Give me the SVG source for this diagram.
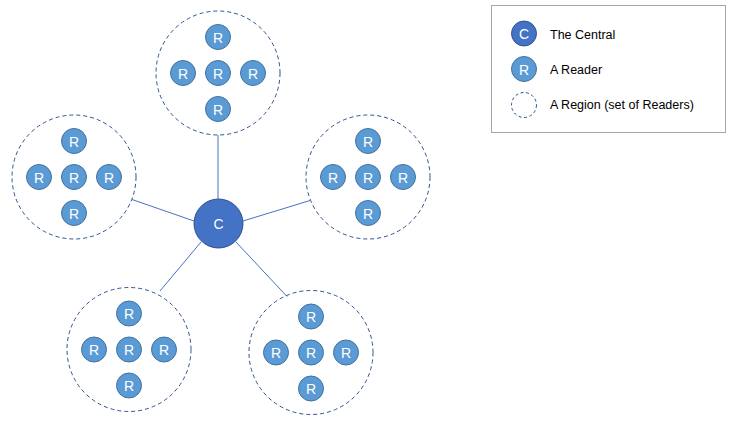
<svg xmlns="http://www.w3.org/2000/svg" width="737" height="426" viewBox="0 0 737 426">
<style>
.reg{fill:none;stroke:#2F528F;stroke-width:1;stroke-dasharray:4 3}
.rd{fill:#5B9BD5;stroke:#41719C;stroke-width:1}
.ct{fill:#4472C4;stroke:#2F528F;stroke-width:1}
.lt{font-family:"Liberation Sans",Arial,sans-serif;font-size:14px;fill:#fff;text-anchor:middle;dominant-baseline:central}
.lg{font-family:"Liberation Sans",Arial,sans-serif;font-size:12.5px;fill:#000}
.cn{stroke:#4472C4;stroke-width:1;fill:none}
</style>
<defs>
<g id="reader"><circle class="rd" r="12.5"/><text class="lt" y="0.5">R</text></g>
<g id="cluster">
<circle class="reg" r="62"/>
<use href="#reader" x="0" y="-36"/>
<use href="#reader" x="-35" y="0"/>
<use href="#reader" x="0" y="0"/>
<use href="#reader" x="35" y="0"/>
<use href="#reader" x="0" y="36"/>
</g>
</defs>
<rect width="737" height="426" fill="#fff"/>
<g id="connectors">
<line class="cn" x1="218" y1="135" x2="218" y2="199"/>
<line class="cn" x1="132" y1="199.5" x2="194" y2="221"/>
<line class="cn" x1="310" y1="200.5" x2="243" y2="221"/>
<line class="cn" x1="160" y1="291" x2="201" y2="242"/>
<line class="cn" x1="287" y1="296.5" x2="236" y2="242"/>
</g>
<g id="region-top"><use href="#cluster" x="218" y="73"/></g>
<g id="region-left"><use href="#cluster" x="74" y="177"/></g>
<g id="region-right"><use href="#cluster" x="368" y="177"/></g>
<g id="region-bottom-left"><use href="#cluster" x="129" y="349.5"/></g>
<g id="region-bottom-right"><use href="#cluster" x="311" y="352.5"/></g>
<g id="central"><circle class="ct" cx="218.5" cy="223.5" r="24.5"/><text class="lt" x="218.5" y="224">C</text></g>
<g id="legend">
<rect x="491.5" y="5.5" width="234" height="127" fill="#fff" stroke="#A6A6A6" stroke-width="1"/>
<circle class="ct" cx="524" cy="33.5" r="12.5"/><text class="lt" x="524" y="34">C</text>
<circle class="rd" cx="524" cy="69" r="12.5"/><text class="lt" x="524" y="69.5">R</text>
<circle class="reg" cx="524" cy="105" r="12.5" style="stroke-dasharray:3 2.5"/>
<text class="lg" x="550" y="38.5">The Central</text>
<text class="lg" x="550" y="73.5">A Reader</text>
<text class="lg" x="550" y="109">A Region (set of Readers)</text>
</g>
</svg>
